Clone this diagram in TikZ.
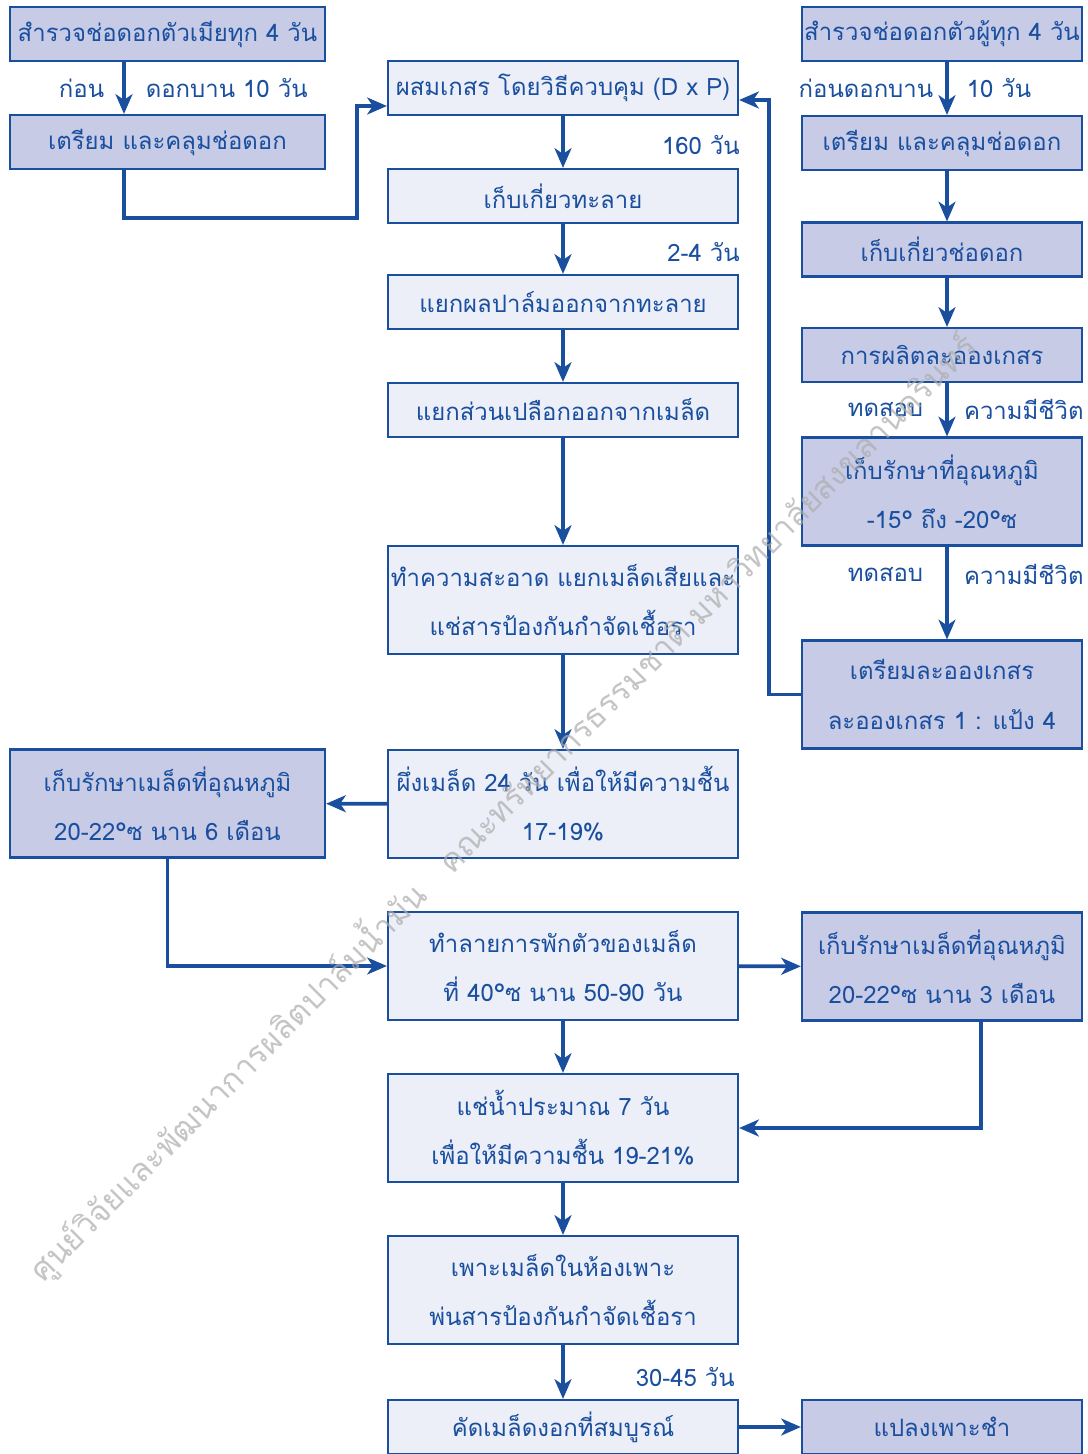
\documentclass[tikz,border=0pt]{standalone}
\usepackage{fontspec}
\usepackage{xcolor}
\usepackage{tikz}
\usetikzlibrary{arrows.meta,positioning,calc}
\newfontfamily\thaifont[Script=Thai]{Loma}
\definecolor{seedblue}{HTML}{1A4F9F}
\definecolor{seeddark}{HTML}{C7CBE6}
\definecolor{seedlight}{HTML}{ECEFF8}

\begin{document}
\begin{tikzpicture}[
  x=0.025cm,y=-0.025cm,
  font=\thaifont\fontsize{17}{35}\selectfont,
  box/.style={draw=seedblue,line width=1.5pt,text=seedblue,align=center,inner sep=0pt,minimum height=1.35cm},
  tall/.style={minimum height=2.7cm},
  mid/.style={box,minimum width=8.75cm,fill=seedlight},
  side/.style={box,minimum width=7.875cm,fill=seeddark},
  rgt/.style={box,minimum width=7cm,fill=seeddark},
  arr/.style={draw=seedblue,line width=2.6pt,-{Stealth[length=14pt,width=12pt,inset=4pt]}},
  lbl/.style={text=seedblue,inner sep=0pt}
]
\useasboundingbox (0,0) rectangle (1087,1454);

% left column
\node[side] (fem) at (167.5,34) {สำรวจช่อดอกตัวเมียทุก 4 วัน};
\node[side] (femcov) at (167.5,142) {เตรียม และคลุมช่อดอก};
\node[side,tall] (store6) at (167.5,803.5) {เก็บรักษาเมล็ดที่อุณหภูมิ\\20-22°ซ นาน 6 เดือน};

% middle column
\node[mid] (cross) at (563,88) {ผสมเกสร โดยวิธีควบคุม (D x P)};
\node[mid] (harv) at (563,196) {เก็บเกี่ยวทะลาย};
\node[mid] (fruit) at (563,302) {แยกผลปาล์มออกจากทะลาย};
\node[mid] (shell) at (563,410) {แยกส่วนเปลือกออกจากเมล็ด};
\node[mid,tall] (clean) at (563,600) {ทำความสะอาด แยกเมล็ดเสียและ\\แช่สารป้องกันกำจัดเชื้อรา};
\node[mid,tall] (dry) at (563,804) {ผึ่งเมล็ด 24 วัน เพื่อให้มีความชื้น\\17-19\%};
\node[mid,tall] (heat) at (563,966) {ทำลายการพักตัวของเมล็ด\\ที่ 40°ซ นาน 50-90 วัน};
\node[mid,tall] (soak) at (563,1128) {แช่น้ำประมาณ 7 วัน\\เพื่อให้มีความชื้น 19-21\%};
\node[mid,tall] (germ) at (563,1290) {เพาะเมล็ดในห้องเพาะ\\พ่นสารป้องกันกำจัดเชื้อรา};
\node[mid] (pick) at (563,1427) {คัดเมล็ดงอกที่สมบูรณ์};

% right column
\node[rgt] (male) at (942,34) {สำรวจช่อดอกตัวผู้ทุก 4 วัน};
\node[rgt] (malecov) at (942,143) {เตรียม และคลุมช่อดอก};
\node[rgt] (mharv) at (942,249.5) {เก็บเกี่ยวช่อดอก};
\node[rgt] (pollen) at (942,355) {การผลิตละอองเกสร};
\node[rgt,tall] (cold) at (942,491.5) {เก็บรักษาที่อุณหภูมิ\\-15° ถึง -20°ซ};
\node[rgt,tall] (mix) at (942,694.5) {เตรียมละอองเกสร\\ละอองเกสร 1 : แป้ง 4};
\node[rgt,tall] (store3) at (942,966.5) {เก็บรักษาเมล็ดที่อุณหภูมิ\\20-22°ซ นาน 3 เดือน};
\node[rgt] (nursery) at (942,1427) {แปลงเพาะชำ};

\coordinate (lx) at (124,0);
\coordinate (rx) at (947,0);
\coordinate (bend1) at (357,218);
\coordinate (bend2) at (769,0);
\coordinate (bend3) at (981,0);

% connectors
\draw[arr] (fem.south -| lx) -- node[lbl,left=0.45cm] {ก่อน} node[lbl,right=0.5cm] {ดอกบาน 10 วัน} (femcov.north -| lx);
\draw[arr] (femcov.south -| lx) |- (bend1) |- ([yshift=-0.45cm]cross.west);
\draw[arr] (cross) -- (harv);
\draw[arr] (harv) -- (fruit);
\draw[arr] (fruit) -- (shell);
\draw[arr] (shell) -- (clean);
\draw[arr] (clean) -- (dry);
\draw[arr] (dry) -- (store6);
\draw[arr] (store6) |- (heat);
\draw[arr] (heat) -- (store3);
\draw[arr] (heat) -- (soak);
\draw[arr] (store3.south -| bend3) |- (soak.east);
\draw[arr] (soak) -- (germ);
\draw[arr] (germ) -- (pick);
\draw[arr] (pick) -- (nursery);
\node[lbl,anchor=east] (d160) at (740,145) {160 วัน};
\node[lbl,anchor=east] (d24) at (740,252) {2-4 วัน};
\node[lbl,anchor=east] (d3045) at (735,1377) {30-45 วัน};

\draw[arr] (male.south -| rx) -- node[lbl,left=0.3cm] {ก่อนดอกบาน} node[lbl,right=0.45cm] {10 วัน} (malecov.north -| rx);
\draw[arr] (malecov.south -| rx) -- (mharv.north -| rx);
\draw[arr] (mharv.south -| rx) -- (pollen.north -| rx);
\draw[arr] (pollen.south -| rx) -- node[lbl,left=0.55cm] {ทดสอบ} node[lbl,right=0.38cm] {ความมีชีวิต} (cold.north -| rx);
\draw[arr] (cold.south -| rx) -- node[lbl,pos=0.3,left=0.55cm] {ทดสอบ} node[lbl,pos=0.3,right=0.38cm] {ความมีชีวิต} (mix.north -| rx);
\draw[arr] (mix.west) -- (mix.west -| bend2) |- ([yshift=-0.3cm]cross.east);

% watermark
\node[rotate=45,text=gray!65,opacity=0.7,font=\thaifont\fontsize{23}{27}\selectfont] (mark) at (502,807) {ศูนย์วิจัยและพัฒนาการผลิตปาล์มน้ำมัน\quad คณะทรัพยากรธรรมชาติ มหาวิทยาลัยสงขลานครินทร์};
\end{tikzpicture}
\end{document}
